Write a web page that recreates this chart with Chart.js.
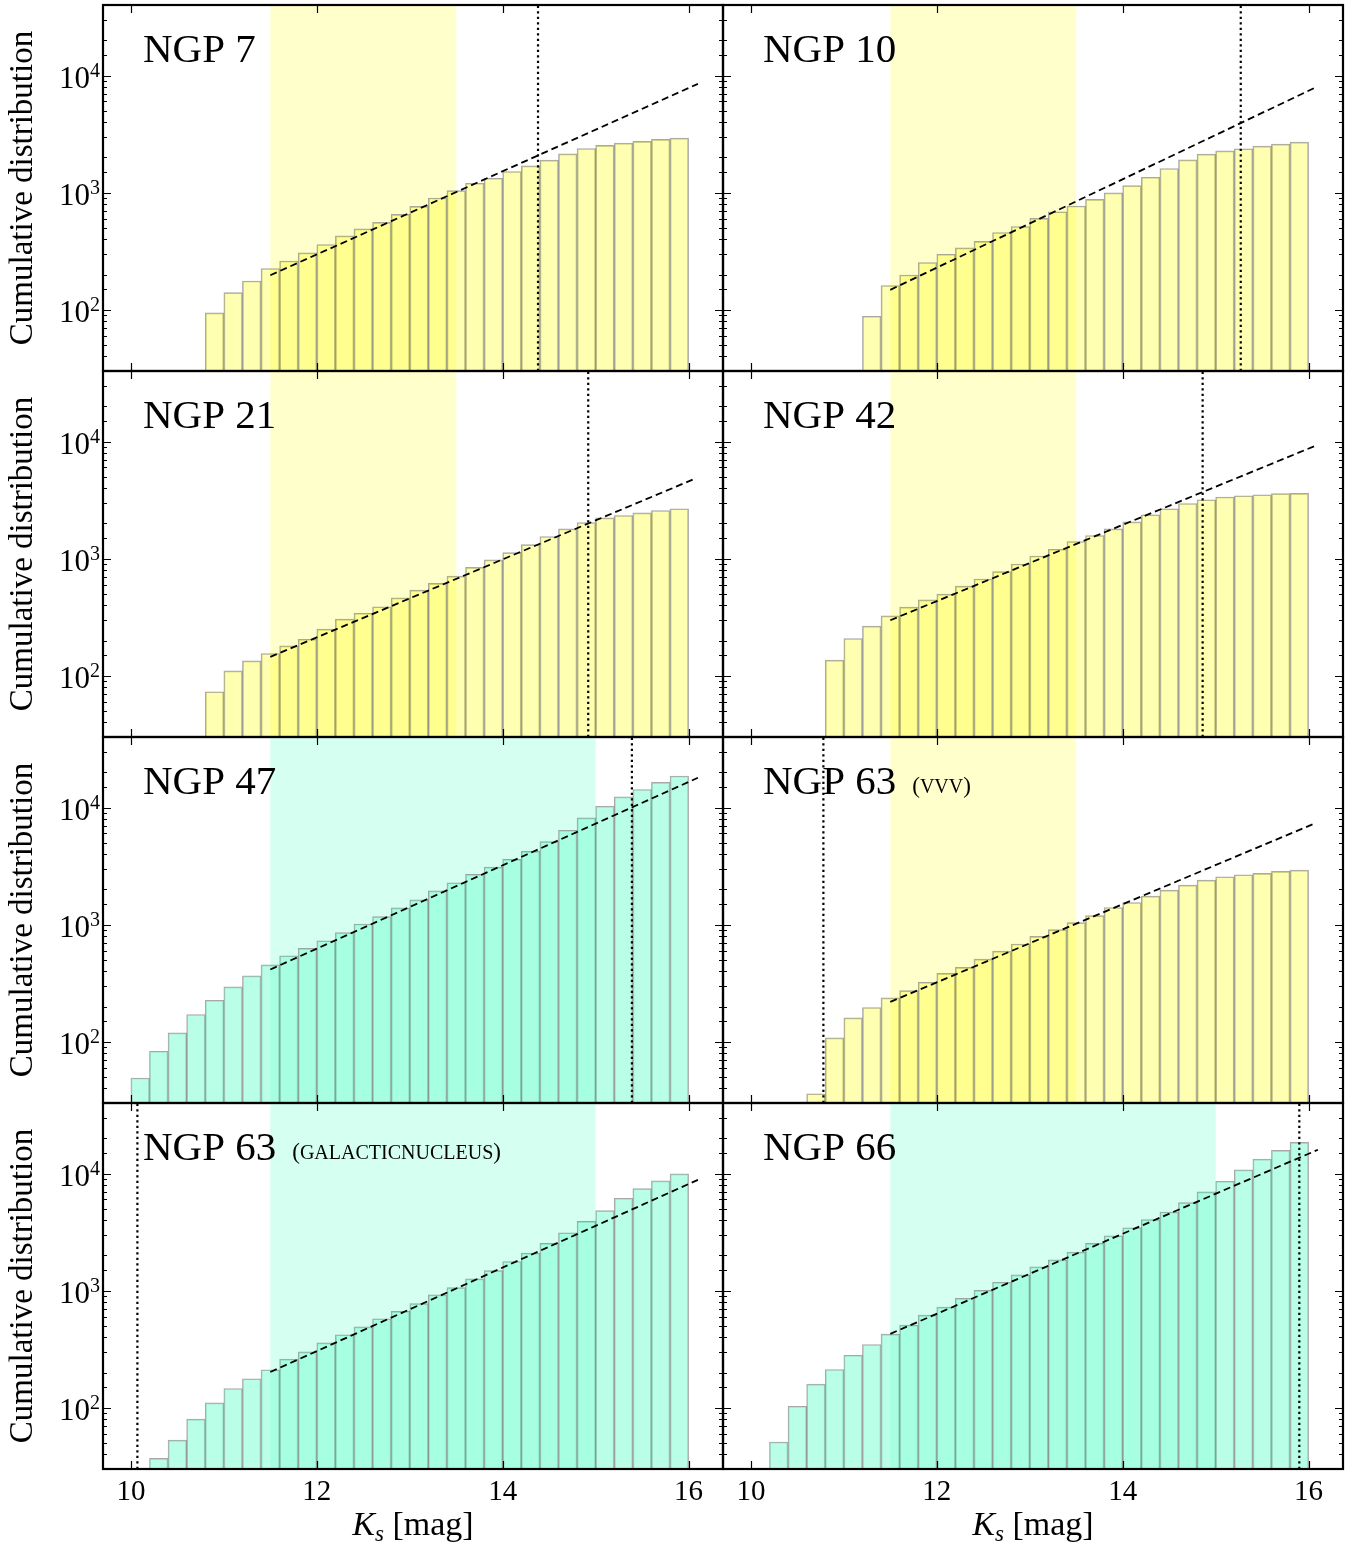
<!DOCTYPE html>
<html>
<head>
<meta charset="utf-8">
<script src="https://cdn.jsdelivr.net/npm/chart.js@4.4.0/dist/chart.umd.min.js"></script>
<style>
  html, body { margin: 0; padding: 0; background: #fff; }
  body { width: 1359px; height: 1547px; position: relative; overflow: hidden; }
  canvas.panel { position: absolute; }
</style>
</head>
<body>
<script>
// bin centres of the 0.2 mag histogram bins (10.0-10.2 ... 15.8-16.0)
const BIN_CENTERS = [10.1, 10.3, 10.5, 10.7, 10.9, 11.1, 11.3, 11.5, 11.7, 11.9,
                     12.1, 12.3, 12.5, 12.7, 12.9, 13.1, 13.3, 13.5, 13.7, 13.9,
                     14.1, 14.3, 14.5, 14.7, 14.9, 15.1, 15.3, 15.5, 15.7, 15.9];
const X_TICKS = [10, 12, 14, 16];
const Y_TICKS = [100, 1000, 10000];
const X_MIN = 9.7, X_MAX = 16.37;
const Y_MIN = 30, Y_MAX = 40000;

// cumulative counts per bin (null = empty bin)
const NGP7 = [null, null, null, null, 94, 140, 176, 225, 261, 306, 361, 428, 491, 557, 652, 763, 900, 1040, 1202, 1327, 1514, 1694, 1893, 2144, 2383, 2529, 2649, 2736, 2845, 2924];
const NGP10 = [null, null, null, null, null, null, 88, 161, 198, 253, 298, 338, 383, 457, 514, 603, 687, 769, 877, 994, 1148, 1353, 1606, 1906, 2131, 2276, 2368, 2497, 2597, 2700];
const NGP21 = [null, null, null, null, 73, 110, 134, 155, 180, 205, 250, 304, 342, 388, 463, 539, 615, 710, 843, 975, 1125, 1318, 1544, 1797, 2036, 2232, 2337, 2462, 2577, 2667];
const NGP42 = [null, null, null, null, 136, 208, 265, 325, 385, 445, 498, 583, 670, 774, 900, 1054, 1203, 1400, 1575, 1797, 2063, 2368, 2667, 2959, 3184, 3357, 3445, 3514, 3585, 3610];
const NGP47 = [49, 83, 119, 171, 226, 294, 365, 454, 542, 627, 729, 854, 1013, 1171, 1389, 1627, 1944, 2277, 2683, 3100, 3605, 4226, 5114, 6400, 8155, 10260, 12340, 14250, 16370, 18570];
const NGP63_VVV = [null, null, null, 36, 108, 160, 196, 237, 273, 322, 383, 431, 508, 595, 683, 794, 906, 1040, 1194, 1400, 1544, 1750, 1969, 2173, 2401, 2565, 2667, 2738, 2847, 2922];
const NGP63_GN = [null, 37, 53, 80, 110, 146, 177, 211, 260, 300, 358, 420, 491, 575, 665, 774, 919, 1061, 1259, 1484, 1773, 2089, 2529, 3120, 3900, 4820, 6150, 7430, 8650, 9935];
const NGP66 = [null, 51, 103, 159, 212, 281, 347, 425, 508, 618, 724, 860, 1006, 1179, 1362, 1595, 1832, 2131, 2529, 2944, 3445, 4036, 4694, 5640, 6960, 8590, 10740, 13270, 15750, 18460];

const PANEL_NAMES = ['NGP 7', 'NGP 10', 'NGP 21', 'NGP 42', 'NGP 47', 'NGP 63', 'NGP 63', 'NGP 66'];
const PANEL_NOTES = ['', '', '', '', '', 'VVV', 'GALACTICNUCLEUS', ''];
const PANEL_COUNTS = [NGP7, NGP10, NGP21, NGP42, NGP47, NGP63_VVV, NGP63_GN, NGP66];
const PANEL_TINT = ['yellow', 'yellow', 'yellow', 'yellow', 'teal', 'yellow', 'teal', 'teal'];

// fitted power law (dashed), start and end
const FIT_FROM = [11.5, 11.5, 11.5, 11.5, 11.5, 11.5, 11.5, 11.5];
const FIT_TO = [16.1, 16.08, 16.07, 16.09, 16.1, 16.08, 16.1, 16.1];
const FIT_LOW = [197, 148, 145, 298, 414, 219, 202, 428];
const FIT_HIGH = [8483, 7943, 4817, 9310, 17950, 7395, 8830, 15960];

// completeness limit (dotted)
const LIMIT_MAG = [14.38, 15.27, 14.92, 14.86, 15.39, 10.78, 10.07, 15.9];

// shaded fitting range
const BAND_FROM = [11.5, 11.5, 11.5, 11.5, 11.5, 11.5, 11.5, 11.5];
const BAND_TO = [13.5, 13.5, 13.5, 13.5, 15.0, 13.5, 15.0, 15.0];

const COLORS = {
    yellow: { bar: 'rgba(255, 255, 0, 0.3)', band: 'rgba(255, 255, 0, 0.2)' },
    teal: { bar: 'rgba(127, 255, 212, 0.55)', band: 'rgba(127, 255, 212, 0.33)' }
};

const SERIF = "'Liberation Serif', 'DejaVu Serif', serif";
Chart.defaults.font.family = SERIF;
Chart.defaults.color = '#000';

// shaded band, frame, inward ticks, labels
const panelDecor = {
    id: 'panelDecor',
    beforeDatasetsDraw(chart, args, opts) {
        const { ctx, chartArea: a, scales: { x } } = chart;
        const x0 = x.getPixelForValue(opts.bandFrom);
        const x1 = x.getPixelForValue(opts.bandTo);
        ctx.save();
        ctx.fillStyle = opts.band;
        ctx.fillRect(x0, a.top, x1 - x0, a.bottom - a.top);
        ctx.restore();
    },
    afterDraw(chart, args, opts) {
        const { ctx, chartArea: a, scales: { x, y } } = chart;
        ctx.save();
        ctx.strokeStyle = '#000';

        // y ticks (major + minor) on both sides
        ctx.lineWidth = 1.2;
        ctx.beginPath();
        y.ticks.forEach(t => {
            if (t.value <= Y_MIN || t.value >= Y_MAX) return;
            const py = Math.round(y.getPixelForValue(t.value)) + 0.5;
            const major = Y_TICKS.includes(t.value);
            const len = major ? 8 : 4;
            ctx.moveTo(a.left, py); ctx.lineTo(a.left + len, py);
            ctx.moveTo(a.right, py); ctx.lineTo(a.right - len, py);
        });
        X_TICKS.forEach(v => {
            const px = Math.round(x.getPixelForValue(v)) + 0.5;
            ctx.moveTo(px, a.bottom); ctx.lineTo(px, a.bottom - 8);
            ctx.moveTo(px, a.top); ctx.lineTo(px, a.top + 8);
        });
        ctx.stroke();

        // frame
        ctx.lineWidth = 2.2;
        ctx.strokeRect(a.left, a.top, a.right - a.left, a.bottom - a.top);

        ctx.fillStyle = '#000';
        ctx.textBaseline = 'alphabetic';

        // y tick labels 10^n
        if (opts.yLabels) {
            Y_TICKS.forEach(v => {
                const py = y.getPixelForValue(v);
                const exp = String(Math.round(Math.log10(v)));
                ctx.font = `20px ${SERIF}`;
                const we = ctx.measureText(exp).width;
                ctx.font = `31px ${SERIF}`;
                const wb = ctx.measureText('10').width;
                const right = a.left - 3;
                ctx.fillText('10', right - we - wb, py + 12);
                ctx.font = `20px ${SERIF}`;
                ctx.fillText(exp, right - we, py + 1);
            });
        }

        // x title: K_s [mag]
        if (opts.xTitle) {
            const parts = [
                { t: 'K', f: `italic 34px ${SERIF}`, dy: 0 },
                { t: 's', f: `italic 23px ${SERIF}`, dy: 6 },
                { t: ' [mag]', f: `34px ${SERIF}`, dy: 0 }
            ];
            let total = 0;
            parts.forEach(p => { ctx.font = p.f; p.w = ctx.measureText(p.t).width; total += p.w; });
            let cx = (a.left + a.right) / 2 - total / 2;
            const base = a.bottom + 66;
            parts.forEach(p => { ctx.font = p.f; ctx.fillText(p.t, cx, base + p.dy); cx += p.w; });
        }

        // panel name
        const lx = a.left + 40, ly = a.top + 57;
        ctx.font = `41px ${SERIF}`;
        ctx.fillText(opts.name, lx, ly);
        if (opts.note) {
            let nx = lx + ctx.measureText(opts.name).width + 16;
            ctx.font = `23px ${SERIF}`;
            ctx.fillText('(', nx, ly - 1); nx += ctx.measureText('(').width;
            ctx.font = `20px ${SERIF}`;
            ctx.fillText(opts.note, nx, ly - 1); nx += ctx.measureText(opts.note).width;
            ctx.font = `23px ${SERIF}`;
            ctx.fillText(')', nx, ly - 1);
        }
        ctx.restore();
    }
};

const ROW_H = 366, TOP = 5;

PANEL_NAMES.forEach((name, i) => {
    const row = Math.floor(i / 2), col = i % 2;
    const bottomRow = row === 3;
    const left = col === 0 ? 0 : 713;
    const width = col === 0 ? 725 : 646;
    const top = TOP + row * ROW_H - 5;
    const height = 5 + ROW_H + (bottomRow ? 78 : 5);

    const canvas = document.createElement('canvas');
    canvas.className = 'panel';
    canvas.width = width; canvas.height = height;
    canvas.style.left = left + 'px'; canvas.style.top = top + 'px';
    canvas.style.width = width + 'px'; canvas.style.height = height + 'px';
    document.body.appendChild(canvas);

    const counts = PANEL_COUNTS[i];
    const bars = BIN_CENTERS.map((x, k) => ({ x, y: counts[k] })).filter(p => p.y !== null);
    const tint = COLORS[PANEL_TINT[i]];

    new Chart(canvas, {
        type: 'bar',
        data: {
            datasets: [
                {
                    type: 'line',
                    data: [{ x: FIT_FROM[i], y: FIT_LOW[i] }, { x: FIT_TO[i], y: FIT_HIGH[i] }],
                    borderColor: '#000',
                    borderWidth: 1.8,
                    borderDash: [7, 4],
                    pointRadius: 0,
                    fill: false,
                    order: 1
                },
                {
                    type: 'line',
                    data: [{ x: LIMIT_MAG[i], y: Y_MIN }, { x: LIMIT_MAG[i], y: Y_MAX }],
                    borderColor: '#000',
                    borderWidth: 2.2,
                    borderDash: [2.2, 3.3],
                    pointRadius: 0,
                    fill: false,
                    order: 2
                },
                {
                    type: 'bar',
                    data: bars,
                    backgroundColor: tint.bar,
                    borderColor: 'rgba(110, 110, 110, 0.6)',
                    borderWidth: 1,
                    barPercentage: 1,
                    categoryPercentage: 1,
                    order: 3
                }
            ]
        },
        options: {
            responsive: false,
            animation: false,
            events: [],
            layout: { padding: { top: 5, right: col === 0 ? 2 : 16, left: 0, bottom: 0 } },
            plugins: {
                legend: { display: false },
                tooltip: { enabled: false },
                panelDecor: {
                    name: name,
                    note: PANEL_NOTES[i],
                    band: tint.band,
                    bandFrom: BAND_FROM[i],
                    bandTo: BAND_TO[i],
                    yLabels: col === 0,
                    xTitle: bottomRow
                }
            },
            scales: {
                x: {
                    type: 'linear',
                    min: X_MIN,
                    max: X_MAX,
                    offset: false,
                    grid: { display: false, drawTicks: false },
                    border: { display: false },
                    afterBuildTicks: s => { s.ticks = X_TICKS.map(v => ({ value: v })); },
                    ticks: {
                        display: bottomRow,
                        autoSkip: false,
                        maxRotation: 0,
                        padding: 6,
                        font: { size: 29 },
                        callback: v => String(v)
                    },
                    afterFit: s => { s.height = bottomRow ? 78 : 5; }
                },
                y: {
                    type: 'logarithmic',
                    min: Y_MIN,
                    max: Y_MAX,
                    grid: { display: false, drawTicks: false },
                    border: { display: false },
                    ticks: { display: false, autoSkip: false },
                    title: {
                        display: col === 0,
                        text: 'Cumulative distribution',
                        font: { size: 33 },
                        padding: { top: 4, bottom: 0 }
                    },
                    afterFit: s => { s.width = col === 0 ? 103 : 10; }
                }
            }
        },
        plugins: [panelDecor]
    });
});
</script>
</body>
</html>
